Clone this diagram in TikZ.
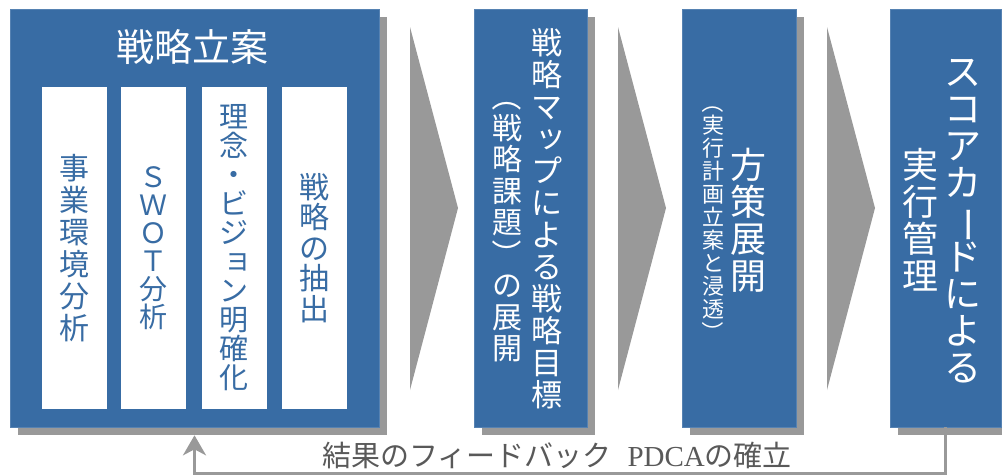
\documentclass[tikz,border=0pt]{standalone}
\usepackage{fontspec}
\setmainfont{Noto Sans CJK JP}
\newfontfamily\pdca{Liberation Serif}
\usetikzlibrary{positioning, shadows, arrows.meta}
\definecolor{bblue}{RGB}{56,108,164}
\definecolor{sgray}{RGB}{153,153,153}
\definecolor{tgray}{RGB}{89,89,89}
% vertical (tate) stacking of characters
\def\tateend{\tateend}
\newcommand\tate[2][1em]{\vbox{\baselineskip=#1\lineskiplimit=-\maxdimen\lineskip=0pt
	\tatei#2\tateend}}
\def\tatei#1{\ifx\tateend#1\else\hbox to 1em{\hss#1\hss}\expandafter\tatei\fi}
\newcommand\rot[1]{\rotatebox[origin=c]{-90}{#1}}
\newcommand\sk[1]{\raisebox{.12em}[.7em][0pt]{\kern.25em#1}}

\begin{document}
\begin{tikzpicture}[x=1pt, y=-1pt,
	blk/.style={draw=bblue!85!white, fill=bblue, line width=0.6pt,
		drop shadow={shadow xshift=8pt, shadow yshift=-8pt, fill=sgray, opacity=1}},
	col/.style={fill=white, minimum width=65, minimum height=322,
		text=bblue, inner sep=0pt, font=\fontsize{30}{30}\selectfont},
	vt/.style={inner sep=0pt, text=white}]
\useasboundingbox (0,0) rectangle (1002,475);
% gray chevrons
\foreach \x in {410,618,827}
	\fill[sgray] (\x,27) -- ++(48,181) -- ++(-48,182) -- cycle;
% blocks
\node [blk, minimum width=369, minimum height=418] (plan) at (194.5,218) {};
\node [blk, minimum width=113, minimum height=418] (map) at (530.5,218) {};
\node [blk, minimum width=114, minimum height=418] (deploy) at (739,218) {};
\node [blk, minimum width=111, minimum height=418] (mgmt) at (945.5,218) {};
\node [text=white, font=\fontsize{38}{38}\selectfont] (title) at (192,47) {戦略立案};
% four columns
\node [col] (env) at (74,248) {\tate[32pt]{事業環境分析}};
\node [col, font=\fontsize{28}{28}\selectfont] (swot) at (153,248) {\tate[28pt]{ＳＷＯＴ分析}};
\node [col, font=\fontsize{29}{29}\selectfont] (vision) at (234,248)
	{\tate[29pt]{理念・ビジ{\sk ョ}ン明確化}};
\node [col] (extract) at (314,248) {\tate[30.5pt]{戦略の抽出}};
% texts of the blocks
\node [vt, font=\fontsize{31}{31}\selectfont] (maptxt) at (547,219)
	{\tate[32pt]{戦略マ{\sk ッ}プによる戦略目標}};
\node [vt, font=\fontsize{30}{30}\selectfont] (mapsub) at (507,222)
	{\tate[31.5pt]{{\rot（}戦略課題{\rot）}の展開}};
\node [vt, font=\fontsize{36}{36}\selectfont] (deptxt) at (748,220) {\tate[37pt]{方策展開}};
\node [vt, font=\fontsize{22}{22}\selectfont] (depsub) at (713,217)
	{\tate[23pt]{{\rot（}実行計画立案と浸透{\rot）}}};
\node [vt, font=\fontsize{37}{37}\selectfont] (mgmttxt) at (963,221)
	{\tate[37pt]{スコアカ{\rot ー}ドによる}};
\node [vt, font=\fontsize{36}{36}\selectfont] (mgmtsub) at (920,220) {\tate[37pt]{実行管理}};
% feedback
\draw [sgray, line width=3pt, -{Stealth[length=20pt, width=23pt, inset=6pt]}]
	(mgmt.south) -- ++(0,46) -| ([yshift=-8pt]plan.south);
\node [text=tgray, font=\fontsize{29}{29}\selectfont, inner sep=0pt] (fb) at (557,455)
	{結果のフィードバック\hspace{0.55em}{\pdca PDCA}の確立};
\end{tikzpicture}
\end{document}
